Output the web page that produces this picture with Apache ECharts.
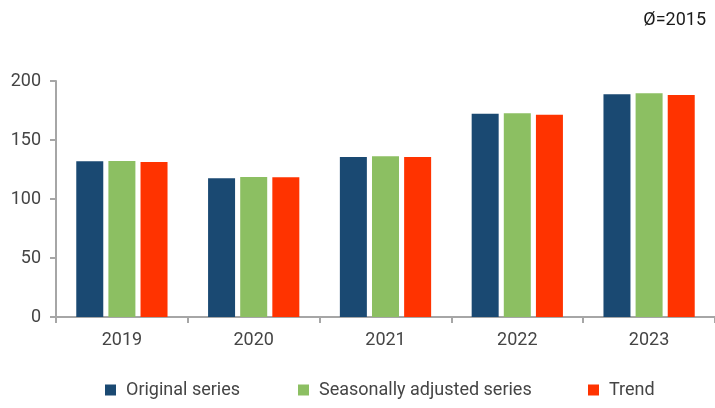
<!DOCTYPE html>
<html><head><meta charset="utf-8">
<script src="https://cdn.jsdelivr.net/npm/echarts@6/dist/echarts.min.js"></script>
<style>html,body{margin:0;padding:0;background:#fff}#c{width:715px;height:408px}</style>
</head><body><div id="c"></div>
<script>
const categories = ['2019','2020','2021','2022','2023'];
const original = [132.0, 117.5, 135.6, 172.3, 188.7];
const seasonal = [132.2, 118.6, 136.2, 172.6, 189.6];
const trend = [131.3, 118.4, 135.6, 171.5, 188.1];
const seriesNames = ['Original series','Seasonally adjusted series','Trend'];
const yTicks = {min:0, max:200, interval:50};

const FONT = '"Liberation Sans Narrow", "Arial Narrow", Roboto, sans-serif';
const legendLeft = [100, 293, 583];
const chart = echarts.init(document.getElementById('c'), null, {renderer:'canvas'});
chart.setOption({
  animation:false,
  backgroundColor:'#fff',
  color:['#1a4972','#8cbf62','#ff3300'],
  title:{text:'Ø=2015', right:4, top:6, textStyle:{fontFamily:FONT, fontSize:18, fontWeight:'normal', color:'#1a1a1a'}},
  grid:{left:56, right:0, top:81, bottom:91, containLabel:false},
  legend: seriesNames.map((n,i)=>({bottom:4, left:legendLeft[i], itemWidth:11, itemHeight:11, icon:'rect',
    textStyle:{fontFamily:FONT, fontSize:18, color:'#454545', padding:[0,0,0,5]},
    data:[n]})),
  xAxis:{type:'category', data:categories,
    axisLine:{lineStyle:{color:'#a6a6a6', width:2}},
    axisTick:{show:true, length:6, lineStyle:{color:'#a6a6a6', width:2}},
    axisLabel:{fontFamily:FONT, fontSize:18, color:'#454545', margin:14}},
  yAxis:{type:'value', min:yTicks.min, max:yTicks.max, interval:yTicks.interval,
    splitLine:{show:false},
    axisLine:{show:true, lineStyle:{color:'#a6a6a6', width:2}},
    axisTick:{show:true, length:6, lineStyle:{color:'#a6a6a6', width:2}},
    axisLabel:{fontFamily:FONT, fontSize:18, color:'#454545', margin:15}},
  series:[
    {name:seriesNames[0], type:'bar', data:original, barWidth:27, barGap:'19%'},
    {name:seriesNames[1], type:'bar', data:seasonal, barWidth:27, barGap:'19%'},
    {name:seriesNames[2], type:'bar', data:trend, barWidth:27, barGap:'19%'}
  ]
});
</script></body></html>
